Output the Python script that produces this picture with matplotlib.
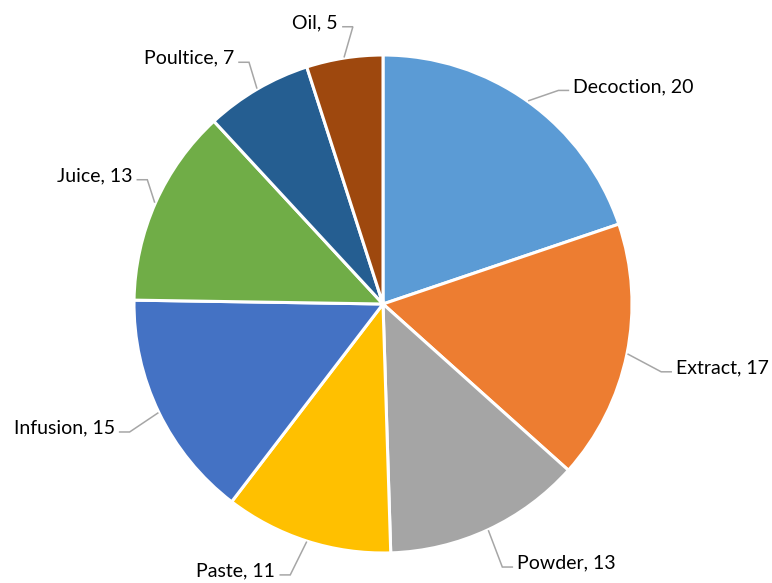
import numpy as np
import matplotlib
matplotlib.use('Agg')
import matplotlib.pyplot as plt

# 데이터
labels = ['Decoction', 'Extract', 'Powder', 'Paste', 'Infusion', 'Juice', 'Poultice', 'Oil']
values = [20, 17, 13, 11, 15, 13, 7, 5]
colors = ['#5B9BD5', '#ED7D31', '#A5A5A5', '#FFC000', '#4472C4', '#70AD47', '#255E91', '#9E480E']

# 라벨 꺾임점 (각도, 반지름 배율)
label_elbow = [(50.6, 1.11), (-13.7, 1.15), (-65.6, 1.16), (-108.9, 1.15),
               (-153.2, 1.14), (152.2, 1.07), (119.0, 1.11), (96.2, 1.12)]

plt.rcParams['font.family'] = ['Lato', 'DejaVu Sans']

W, H = 772, 583
fig = plt.figure(figsize=(W / 100, H / 100), dpi=100)
ax = fig.add_axes([0, 0, 1, 1])

cx, cy, r = 383, H - 304, 249
wedges, _ = ax.pie(values, colors=colors, startangle=90, counterclock=False,
                   center=(cx, cy), radius=r, frame=True,
                   wedgeprops=dict(edgecolor='white', linewidth=2.2))
ax.set_xlim(0, W)
ax.set_ylim(0, H)
ax.set_aspect('equal')
ax.axis('off')

# 라벨 + 지시선
for w, lab, val, (ea, ef) in zip(wedges, labels, values, label_elbow):
    ang = np.deg2rad((w.theta1 + w.theta2) / 2)
    x0, y0 = cx + r * 1.005 * np.cos(ang), cy + r * 1.005 * np.sin(ang)
    x1, y1 = cx + r * ef * np.cos(np.deg2rad(ea)), cy + r * ef * np.sin(np.deg2rad(ea))
    side = 1 if np.cos(ang) >= 0 else -1
    x2 = x1 + side * 10
    ax.plot([x0, x1, x2], [y0, y1, y1], color='#A6A6A6', lw=1.1, solid_joinstyle='miter')
    ax.text(x2 + side * 5, y1 + 4, f'{lab}, {val}', fontsize=14,
            ha='left' if side > 0 else 'right', va='center', color='#000000')

fig.savefig('out.png', dpi=100)
